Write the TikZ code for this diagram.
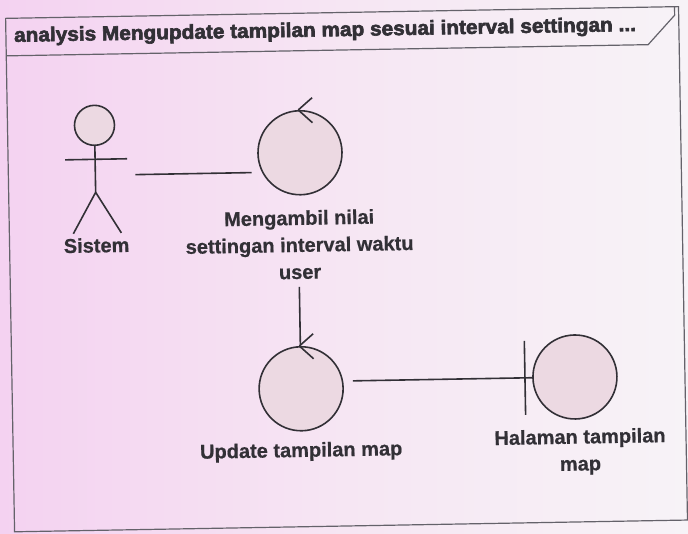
\documentclass[tikz,border=0pt]{standalone}
\usepackage{fontspec}
\setmainfont{Liberation Sans}[BoldFont={Liberation Sans Bold}, BoldFeatures={FakeBold=0.6}]
\newfontfamily\heavyfont[FakeBold=3, FakeStretch=1.04]{Liberation Sans Bold}
\usetikzlibrary{calc}
\definecolor{inkc}{RGB}{50,48,54}
\definecolor{framec}{RGB}{100,98,106}
\definecolor{bodyfill}{RGB}{236,217,226}
\definecolor{pageleft}{RGB}{244,210,241}
\definecolor{pagemid}{RGB}{246,230,243}
\definecolor{pageright}{RGB}{247,243,247}
\tikzset{
  conn/.style={draw=inkc, line width=1.6pt},
  framestroke/.style={draw=framec, line width=1.2pt},
  ctrlbox/.style={circle, draw=inkc, line width=1.6pt, fill=bodyfill,
    minimum size=84pt, inner sep=0pt},
  headbox/.style={circle, draw=inkc, line width=1.6pt, fill=bodyfill,
    minimum size=40pt, inner sep=0pt},
  lbl/.style={text=inkc, font=\bfseries\fontsize{20}{27}\selectfont,
    align=center, inner sep=0pt},
}
\begin{document}
\begin{tikzpicture}[x=1pt, y=-1pt]
  % page and its tint
  \useasboundingbox (0,0) rectangle (688,534);
  \shade[left color=pageleft, right color=pageright, middle color=pagemid]
    (0,0) rectangle (688,534);

  \begin{scope}[rotate around={1:(344,267)}, transform shape]
    % diagram frame with its name tab
    \draw[framestroke] (10,12.5) rectangle (683,526);
    \draw[framestroke] (679,12.5) -- (679,21) -- (652,50) -- (10,50);
    \node[anchor=west, text=inkc, inner sep=0pt,
      font=\heavyfont\fontsize{20}{22}\selectfont] (title) at (18,31)
      {analysis Mengupdate tampilan map sesuai interval settingan ...};

    % actor
    \node[headbox] (head) at (97,121) {};
    \coordinate (hip) at (97,188);
    \coordinate (armL) at (67,155);
    \coordinate (armR) at (129,155);
    \coordinate (footL) at (74,229);
    \coordinate (footR) at (122,229);
    \draw[conn] (head.south) -- (hip);
    \draw[conn] (armL) -- (armR);
    \draw[conn] (footL) -- (hip) -- (footR);
    \node[lbl] (sistem) at (97,241) {Sistem};

    % control: read the user's interval setting
    \node[ctrlbox] (c1) at (302,152) {};
    \draw[conn] ($(c1.north)+(-1,0)$) -- ++(14,-12);
    \draw[conn] ($(c1.north)+(-1,0)$) -- ++(14,13);
    \node[lbl] (c1lab) at (300,244)
      {Mengambil nilai\\settingan interval waktu\\user};

    % control: refresh the map view
    \node[ctrlbox] (c2) at (299,388) {};
    \draw[conn] ($(c2.north)+(-1,0)$) -- ++(14,-12);
    \draw[conn] ($(c2.north)+(-1,0)$) -- ++(14,13);
    \node[lbl] (c2lab) at (298,451) {Update tampilan map};

    % boundary: map page
    \node[ctrlbox] (b) at (573,381) {};
    \coordinate (bt) at (523,381);
    \coordinate (bbarT) at (523,344);
    \coordinate (bbarB) at (523,418);
    \draw[conn] (bbarT) -- (bbarB);
    \draw[conn] (bt) -- (b.west);
    \node[lbl] (blab) at (577,456) {Halaman tampilan\\map};

    % associations
    \coordinate (sysend) at (137,171);
    \draw[conn, shorten >=6pt] (sysend) -- (sysend -| c1.west);
    \coordinate (c1out) at (299,286);
    \draw[conn] (c1out) -- (c2.north);
    \draw[conn] ([xshift=9pt]c2.east |- bt) -- (bt);
  \end{scope}
\end{tikzpicture}
\end{document}
